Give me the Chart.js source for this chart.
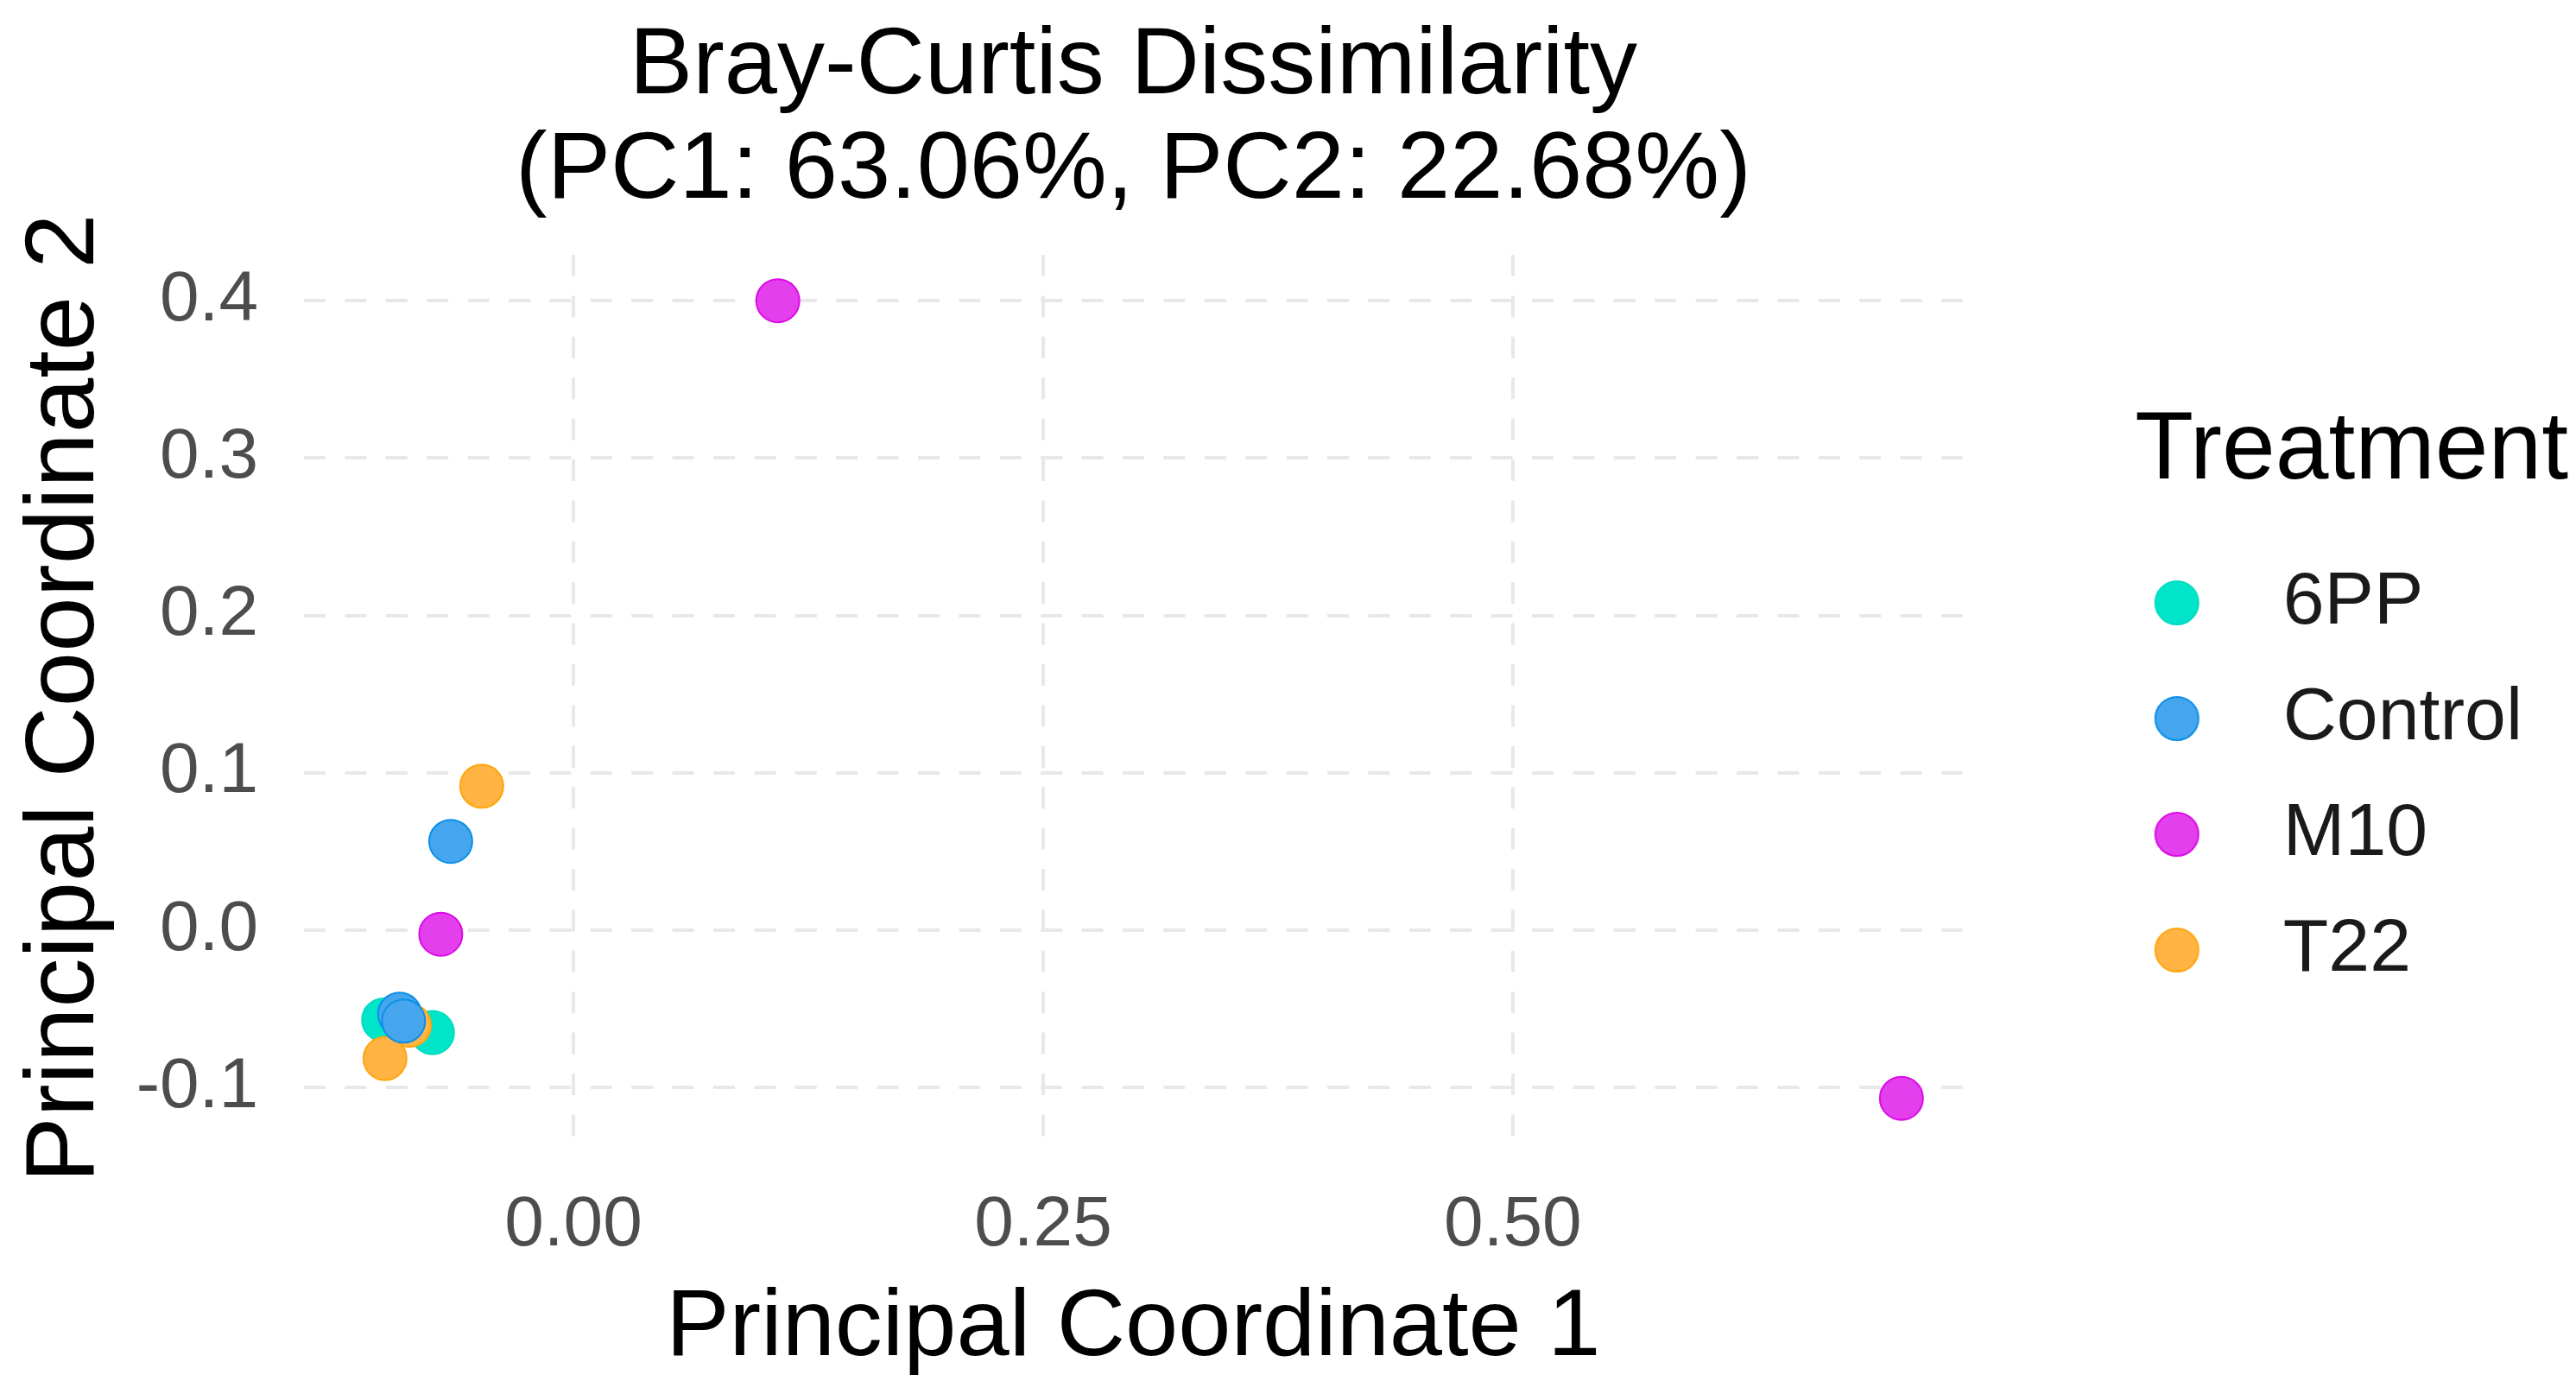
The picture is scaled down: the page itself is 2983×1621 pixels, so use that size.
<!DOCTYPE html>
<html><head><meta charset="utf-8">
<script src="https://cdn.jsdelivr.net/npm/chart.js@4.4.1/dist/chart.umd.min.js"></script>
<style>html,body{margin:0;padding:0;background:#fff;} #wrap{width:2983px;height:1621px;position:relative;}</style>
</head><body><div id="wrap"><canvas id="c"></canvas></div>
<script>
const treatments = ['6PP', 'Control', 'M10', 'T22'];
const fillColors = ['#00E5C9', '#45A6EE', '#E43FEC', '#FFB443'];
const edgeColors = ['#00DCC0', '#0B8FE8', '#DB0BE5', '#FFA60F'];
const drawOrder = [2, 0, 3, 1];

const pc1_6PP = [-0.101, -0.075];
const pc2_6PP = [-0.0571, -0.0651];
const pc1_Control = [-0.0653, -0.0925, -0.0904];
const pc2_Control = [0.0564, -0.0534, -0.0578];
const pc1_M10 = [0.1088, -0.0706, 0.7068];
const pc2_M10 = [0.400, -0.0026, -0.1069];
const pc1_T22 = [-0.0488, -0.0873, -0.1003];
const pc2_T22 = [0.0915, -0.0605, -0.0816];

const xTickValues = [0, 0.25, 0.5];
const xTickLabels = ['0.00', '0.25', '0.50'];
const yTickValues = [-0.1, 0, 0.1, 0.2, 0.3, 0.4];
const yTickLabels = ['-0.1', '0.0', '0.1', '0.2', '0.3', '0.4'];
const titleLines = ['Bray-Curtis Dissimilarity', '(PC1: 63.06%, PC2: 22.68%)'];
const xTitle = 'Principal Coordinate 1';
const yTitle = 'Principal Coordinate 2';
const legendTitle = 'Treatment';

const pc1 = [pc1_6PP, pc1_Control, pc1_M10, pc1_T22];
const pc2 = [pc2_6PP, pc2_Control, pc2_M10, pc2_T22];

Chart.defaults.font.family = "'Liberation Sans', Arial, sans-serif";

function makeDot(fill, edge) {
  const c = document.createElement('canvas');
  c.width = 180; c.height = 60;
  const g = c.getContext('2d');
  g.beginPath();
  g.arc(150, 30, 25, 0, 2 * Math.PI);
  g.fillStyle = fill; g.fill();
  g.lineWidth = 2; g.strokeStyle = edge; g.stroke();
  return c;
}
const legendDots = treatments.map((t, i) => makeDot(fillColors[i], edgeColors[i]));

const datasets = treatments.map((t, i) => ({
  label: t,
  data: pc1[i].map((x, j) => ({ x: x, y: pc2[i][j] })),
  backgroundColor: fillColors[i],
  borderColor: edgeColors[i],
  borderWidth: 2,
  pointRadius: 25,
  pointHoverRadius: 25,
  order: drawOrder[i]
}));

new Chart(document.getElementById('c'), {
  type: 'scatter',
  data: { datasets: datasets },
  options: {
    responsive: true,
    maintainAspectRatio: false,
    devicePixelRatio: 1,
    animation: false,
    events: [],
    layout: { padding: { left: 0, top: 0, right: 9, bottom: 0 } },
    plugins: {
      tooltip: { enabled: false },
      title: {
        display: true,
        text: titleLines,
        fullSize: false,
        align: 'center',
        color: '#000000',
        font: { size: 110, lineHeight: 1.1, weight: 'normal' },
        padding: { top: 17.5, bottom: 35.5 }
      },
      legend: {
        display: true,
        position: 'right',
        fullSize: false,
        align: 'center',
        title: {
          display: true,
          text: legendTitle,
          position: 'end',
          color: '#000000',
          font: { size: 111, lineHeight: 1.2 },
          padding: { top: 41.5, bottom: 6.3 }
        },
        labels: {
          usePointStyle: true,
          pointStyleWidth: 280,
          padding: 48,
          color: '#1A1A1A',
          font: { size: 86 },
          sort: (a, b) => a.datasetIndex - b.datasetIndex,
          generateLabels: (chart) => {
            const items = Chart.defaults.plugins.legend.labels.generateLabels(chart);
            return items.map(it => {
              it.pointStyle = legendDots[it.datasetIndex];
              it.text = it.text + '\u2002';
              return it;
            });
          }
        }
      }
    },
    scales: {
      x: {
        type: 'linear',
        min: -0.1434,
        max: 0.7394,
        afterBuildTicks: (s) => { s.ticks = xTickValues.map(v => ({ value: v })); },
        afterFit: (s) => { s.height = 299; },
        ticks: {
          autoSkip: false, maxRotation: 0, padding: 56,
          color: '#4D4D4D',
          font: { size: 82, lineHeight: 1 },
          callback: (v, i) => xTickLabels[i]
        },
        grid: { color: '#E8E8E8', lineWidth: 4, drawTicks: false },
        border: { display: false, dash: [25, 22.4] },
        title: {
          display: true, text: xTitle, color: '#000000',
          font: { size: 110, lineHeight: 1 },
          padding: { top: 0, bottom: 27 }
        }
      },
      y: {
        type: 'linear',
        min: -0.1345,
        max: 0.4292,
        afterBuildTicks: (s) => { s.ticks = yTickValues.map(v => ({ value: v })); },
        afterFit: (s) => { s.width = 352; },
        ticks: {
          autoSkip: false, padding: 53,
          color: '#4D4D4D',
          font: { size: 82, lineHeight: 1 },
          callback: (v, i) => yTickLabels[i]
        },
        grid: { color: '#E8E8E8', lineWidth: 4, drawTicks: false },
        border: { display: false, dash: [25, 22.4] },
        title: {
          display: true, text: yTitle, color: '#000000',
          font: { size: 114, lineHeight: 1 },
          padding: { top: 19.5, bottom: 0 }
        }
      }
    }
  }
});
</script>
</body></html>
